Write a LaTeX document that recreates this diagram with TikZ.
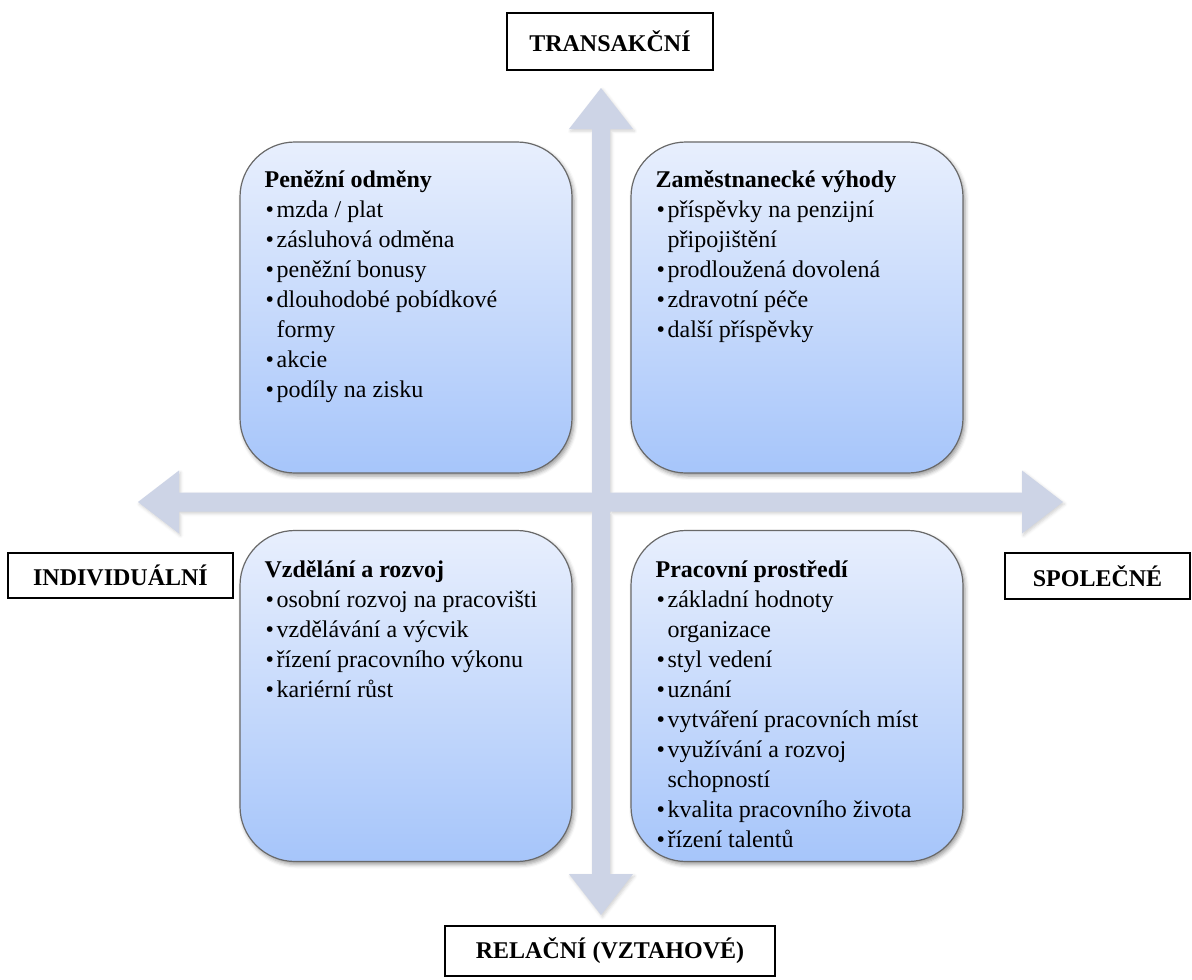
\documentclass[tikz,border=0pt]{standalone}
\usepackage{fontspec}
\setmainfont{Liberation Serif}
\usetikzlibrary{calc,shadows.blur}

\definecolor{axisfill}{RGB}{205,212,230}
\definecolor{quadtop}{RGB}{232,239,253}
\definecolor{quadbot}{RGB}{166,197,250}
\definecolor{quadedge}{RGB}{105,105,105}

% bullet and hanging indent for list lines
\newcommand{\qbul}{\makebox[12pt][l]{\hspace{1pt}\textbullet}}
\newcommand{\qcont}{\hspace*{12pt}}

\tikzset{
  quad/.style={rectangle, rounded corners=55pt, minimum width=332pt,
    minimum height=331pt, inner sep=0pt, draw=quadedge, line width=1.2pt,
    top color=quadtop, bottom color=quadbot,
    blur shadow={shadow xshift=2pt, shadow yshift=-3pt,
      shadow blur radius=4pt, shadow opacity=40}},
  quadtext/.style={anchor=north west, inner sep=0pt, align=left,
    font=\fontsize{24}{30}\selectfont},
  axislabel/.style={draw=black, line width=2pt, inner sep=0pt,
    font=\fontsize{24}{30}\selectfont\bfseries},
  axisarrow/.style={fill=axisfill,
    blur shadow={shadow xshift=1.5pt, shadow yshift=-2pt,
      shadow blur radius=3pt, shadow opacity=18}}
}

\begin{document}
\begin{tikzpicture}[x=1pt, y=-1pt]
\useasboundingbox (0,0) rectangle (1192,980);

% arrow tips of the two axes
\coordinate (tipN) at (601,88);
\coordinate (tipS) at (601,915);
\coordinate (tipW) at (138,502);
\coordinate (tipE) at (1063,502);

% the two double-headed axis arrows, filled as one shape
\path[axisarrow]
  (tipN) -- ($(tipN)+(32,41)$) -- ($(tipN)+(9,41)$) -- ($(tipS)+(9,-41)$)
  -- ($(tipS)+(32,-41)$) -- (tipS) -- ($(tipS)+(-32,-41)$)
  -- ($(tipS)+(-9,-41)$) -- ($(tipN)+(-9,41)$) -- ($(tipN)+(-32,41)$) -- cycle
  (tipW) -- ($(tipW)+(41,-31.5)$) -- ($(tipW)+(41,-9.5)$) -- ($(tipE)+(-41,-9.5)$)
  -- ($(tipE)+(-41,-31.5)$) -- (tipE) -- ($(tipE)+(-41,31.5)$)
  -- ($(tipE)+(-41,9.5)$) -- ($(tipW)+(41,9.5)$) -- ($(tipW)+(41,31.5)$) -- cycle;

% quadrant boxes
\node[quad] (qTL) at (406,307.5) {};
\node[quad] (qTR) at (797,307.5) {};
\node[quad] (qBL) at (406,696) {};
\node[quad] (qBR) at (797,696) {};

\node[quadtext] (tTL) at ($(qTL.north west)+(25,25)$) {%
  \strut\textbf{Peněžní odměny}\\
  \qbul mzda / plat\\
  \qbul zásluhová odměna\\
  \qbul peněžní bonusy\\
  \qbul dlouhodobé pobídkové\\
  \qcont formy\\
  \qbul akcie\\
  \qbul podíly na zisku};

\node[quadtext] (tTR) at ($(qTR.north west)+(25,25)$) {%
  \strut\textbf{Zaměstnanecké výhody}\\
  \qbul příspěvky na penzijní\\
  \qcont připojištění\\
  \qbul prodloužená dovolená\\
  \qbul zdravotní péče\\
  \qbul další příspěvky};

\node[quadtext] (tBL) at ($(qBL.north west)+(25,26)$) {%
  \strut\textbf{Vzdělání a rozvoj}\\
  \qbul osobní rozvoj na pracovišti\\
  \qbul vzdělávání a výcvik\\
  \qbul řízení pracovního výkonu\\
  \qbul kariérní růst};

\node[quadtext] (tBR) at ($(qBR.north west)+(25,26)$) {%
  \strut\textbf{Pracovní prostředí}\\
  \qbul základní hodnoty\\
  \qcont organizace\\
  \qbul styl vedení\\
  \qbul uznání\\
  \qbul vytváření pracovních míst\\
  \qbul využívání a rozvoj\\
  \qcont schopností\\
  \qbul kvalita pracovního života\\
  \qbul řízení talentů};

% axis labels
\node[axislabel, minimum width=206pt, minimum height=57pt] (lT) at (610,41.5) {TRANSAKČNÍ};
\node[axislabel, minimum width=225pt, minimum height=45pt] (lW) at (120.5,575.5) {INDIVIDUÁLNÍ};
\node[axislabel, minimum width=185pt, minimum height=46pt] (lE) at (1097.5,576) {SPOLEČNÉ};
\node[axislabel, minimum width=330pt, minimum height=50pt] (lS) at (610,951) {RELAČNÍ (VZTAHOVÉ)};
\end{tikzpicture}
\end{document}
